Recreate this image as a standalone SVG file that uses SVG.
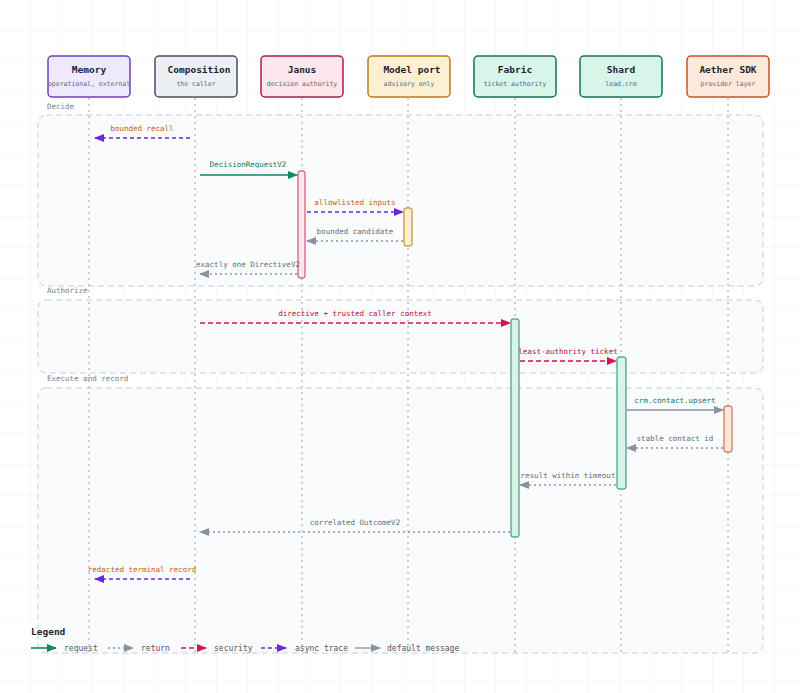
<svg xmlns="http://www.w3.org/2000/svg" width="800" height="693" viewBox="0 0 800 693">
<style>
text{font-family:"DejaVu Sans Mono","Liberation Mono",monospace}
.t{font-size:9.5px;font-weight:bold;fill:#1f2430;text-anchor:middle}
.s{font-size:6.5px;fill:#667;text-anchor:middle}
.sec{fill:#f8fafc;fill-opacity:.8;stroke:#c8ccd4;stroke-dasharray:6 4;stroke-width:1}
.sl{font-size:7.5px;fill:#777e8a}
.life{stroke:#9aa0aa;stroke-dasharray:2 4;stroke-width:1}
.m{font-size:7.5px;text-anchor:middle}
.lg{font-size:8px;fill:#555}
</style>
<defs>
<pattern id="g" width="31" height="31" patternUnits="userSpaceOnUse"><path d="M31 0V31H0" fill="none" stroke="#eef0f2" stroke-width="1"/></pattern>
<marker id="ag" markerWidth="10" markerHeight="8" refX="9" refY="4" orient="auto" markerUnits="userSpaceOnUse"><path d="M0 0L10 4L0 8z" fill="#0f8a5f"/></marker>
<marker id="ax" markerWidth="10" markerHeight="8" refX="9" refY="4" orient="auto" markerUnits="userSpaceOnUse"><path d="M0 0L10 4L0 8z" fill="#8792a2"/></marker>
<marker id="ar" markerWidth="10" markerHeight="8" refX="9" refY="4" orient="auto" markerUnits="userSpaceOnUse"><path d="M0 0L10 4L0 8z" fill="#d4164a"/></marker>
<marker id="ap" markerWidth="10" markerHeight="8" refX="9" refY="4" orient="auto" markerUnits="userSpaceOnUse"><path d="M0 0L10 4L0 8z" fill="#6d28d9"/></marker>
</defs>
<rect width="800" height="693" fill="#fff"/>
<rect width="800" height="693" fill="url(#g)"/>
<g id="sections">
<text class="sl" x="47" y="109">Decide</text>
<rect class="sec" x="38" y="115" width="725" height="171" rx="8"/>
<text class="sl" x="47" y="293">Authorize</text>
<rect class="sec" x="38" y="300" width="725" height="73" rx="8"/>
<text class="sl" x="47" y="381">Execute and record</text>
<rect class="sec" x="38" y="388" width="725" height="265" rx="8"/>
</g>
<g id="lifelines">
<line class="life" x1="89" y1="98" x2="89" y2="653"/>
<line class="life" x1="195" y1="98" x2="195" y2="653"/>
<line class="life" x1="302" y1="98" x2="302" y2="653"/>
<line class="life" x1="408" y1="98" x2="408" y2="653"/>
<line class="life" x1="515" y1="98" x2="515" y2="653"/>
<line class="life" x1="621" y1="98" x2="621" y2="653"/>
<line class="life" x1="728" y1="98" x2="728" y2="653"/>
</g>
<g id="memory"><rect x="48" y="56" width="82" height="41" rx="4" fill="#efe9fd" stroke="#6d3fc0" stroke-width="1.5"/><text class="t" x="89" y="73">Memory</text><text class="s" x="89" y="86">operational, external</text></g>
<g id="composition"><rect x="155" y="56" width="82" height="41" rx="4" fill="#eceff3" stroke="#475263" stroke-width="1.5"/><text class="t" x="199" y="73">Composition</text><text class="s" x="196" y="86">the caller</text></g>
<g id="janus"><rect x="261" y="56" width="82" height="41" rx="4" fill="#fde7ec" stroke="#b3194a" stroke-width="1.5"/><text class="t" x="302" y="73">Janus</text><text class="s" x="302" y="86">decision authority</text></g>
<g id="model"><rect x="368" y="56" width="82" height="41" rx="4" fill="#fdf0d2" stroke="#c07a12" stroke-width="1.5"/><text class="t" x="412" y="73">Model port</text><text class="s" x="409" y="86">advisory only</text></g>
<g id="fabric"><rect x="474" y="56" width="82" height="41" rx="4" fill="#d8f5ea" stroke="#127356" stroke-width="1.5"/><text class="t" x="515" y="73">Fabric</text><text class="s" x="515" y="86">ticket authority</text></g>
<g id="shard"><rect x="580" y="56" width="82" height="41" rx="4" fill="#d8f5ea" stroke="#127356" stroke-width="1.5"/><text class="t" x="621" y="73">Shard</text><text class="s" x="621" y="86">lead.crm</text></g>
<g id="aether"><rect x="687" y="56" width="82" height="41" rx="4" fill="#fde9dc" stroke="#c4561e" stroke-width="1.5"/><text class="t" x="728" y="73">Aether SDK</text><text class="s" x="728" y="86">provider layer</text></g>
<g id="activations">
<rect x="298" y="171" width="7" height="107" rx="2" fill="#fde7ec" stroke="#c2385f"/>
<rect x="404" y="208" width="8" height="38" rx="2" fill="#fdf0d2" stroke="#c07a12"/>
<rect x="511" y="319" width="8" height="218" rx="2" fill="#d8f5ea" stroke="#1e8a66"/>
<rect x="617" y="357" width="9" height="132" rx="2" fill="#d8f5ea" stroke="#1e8a66"/>
<rect x="724" y="406" width="8" height="46" rx="2" fill="#fde9dc" stroke="#c4561e"/>
</g>
<g id="connectors" fill="none" stroke-width="1.3">
<line x1="190" y1="138" x2="95" y2="138" stroke="#6d28d9" stroke-dasharray="4 3" marker-end="url(#ap)"/>
<line x1="200" y1="175" x2="297" y2="175" stroke="#0f8a5f" stroke-width="1.6" marker-end="url(#ag)"/>
<line x1="307" y1="212" x2="403" y2="212" stroke="#6d28d9" stroke-dasharray="4 3" marker-end="url(#ap)"/>
<line x1="403" y1="241" x2="307" y2="241" stroke="#8792a2" stroke-dasharray="2 3" marker-end="url(#ax)"/>
<line x1="297" y1="274" x2="200" y2="274" stroke="#8792a2" stroke-dasharray="2 3" marker-end="url(#ax)"/>
<line x1="200" y1="323" x2="510" y2="323" stroke="#d4164a" stroke-dasharray="5 3" marker-end="url(#ar)"/>
<line x1="520" y1="361" x2="616" y2="361" stroke="#d4164a" stroke-dasharray="5 3" marker-end="url(#ar)"/>
<line x1="627" y1="410" x2="723" y2="410" stroke="#8792a2" marker-end="url(#ax)"/>
<line x1="723" y1="448" x2="627" y2="448" stroke="#8792a2" stroke-dasharray="2 3" marker-end="url(#ax)"/>
<line x1="616" y1="485" x2="520" y2="485" stroke="#8792a2" stroke-dasharray="2 3" marker-end="url(#ax)"/>
<line x1="510" y1="532" x2="200" y2="532" stroke="#8792a2" stroke-dasharray="2 3" marker-end="url(#ax)"/>
<line x1="190" y1="579" x2="95" y2="579" stroke="#6d28d9" stroke-dasharray="4 3" marker-end="url(#ap)"/>
</g>
<g id="labels">
<text class="m" x="142" y="131" fill="#c2610c">bounded recall</text>
<text class="m" x="248" y="167" fill="#0f7a55">DecisionRequestV2</text>
<text class="m" x="355" y="205" fill="#c2610c">allowlisted inputs</text>
<text class="m" x="355" y="234" fill="#666d78">bounded candidate</text>
<text class="m" x="248" y="267" fill="#666d78">exactly one DirectiveV2</text>
<text class="m" x="355" y="316" fill="#b3123f">directive + trusted caller context</text>
<text class="m" x="568" y="354" fill="#b3123f">least-authority ticket</text>
<text class="m" x="675" y="403" fill="#0f7a55">crm.contact.upsert</text>
<text class="m" x="675" y="441" fill="#666d78">stable contact id</text>
<text class="m" x="568" y="478" fill="#666d78">result within timeout</text>
<text class="m" x="355" y="525" fill="#666d78">correlated OutcomeV2</text>
<text class="m" x="142" y="572" fill="#c2610c">redacted terminal record</text>
</g>
<g id="legend">
<text x="31" y="635" font-size="9.5" font-weight="bold" fill="#1f2430">Legend</text>
<line x1="31" y1="648" x2="56" y2="648" stroke="#0f8a5f" stroke-width="1.6" marker-end="url(#ag)"/>
<text class="lg" x="64" y="651">request</text>
<line x1="108" y1="648" x2="133" y2="648" stroke="#8792a2" stroke-width="1.3" stroke-dasharray="2 3" marker-end="url(#ax)"/>
<text class="lg" x="141" y="651">return</text>
<line x1="181" y1="648" x2="206" y2="648" stroke="#d4164a" stroke-width="1.3" stroke-dasharray="5 3" marker-end="url(#ar)"/>
<text class="lg" x="214" y="651">security</text>
<line x1="261" y1="648" x2="286" y2="648" stroke="#6d28d9" stroke-width="1.3" stroke-dasharray="4 3" marker-end="url(#ap)"/>
<text class="lg" x="295" y="651">async trace</text>
<line x1="355" y1="648" x2="380" y2="648" stroke="#8792a2" stroke-width="1.3" marker-end="url(#ax)"/>
<text class="lg" x="387" y="651">default message</text>
</g>
</svg>
